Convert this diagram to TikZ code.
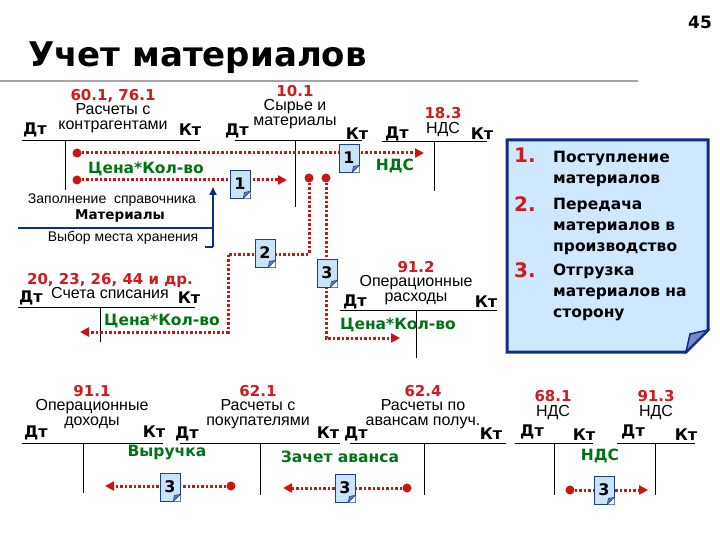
\documentclass[tikz,border=0pt]{standalone}
\usepackage{fontspec}
\setmainfont{Liberation Sans}
\newfontfamily\vb{DejaVu Sans}
\usetikzlibrary{arrows.meta}
\definecolor{lblred}{RGB}{210,25,30}
\definecolor{lblgreen}{RGB}{0,115,20}
\definecolor{flowred}{RGB}{205,20,20}
\definecolor{docfill}{RGB}{200,228,250}
\definecolor{docline}{RGB}{30,60,150}
\definecolor{boxfill}{RGB}{205,232,255}
\definecolor{navy}{RGB}{15,45,135}
\newcommand\accno[1]{{\color{lblred}\fontsize{15}{15}\vb\bfseries #1}}
\tikzset{
  nm/.style={font=\fontsize{16}{14.5}\selectfont, inner sep=0, align=center},
  dk/.style={font=\fontsize{16}{16}\vb\bfseries, inner sep=0},
  grn/.style={font=\fontsize{15.5}{15.5}\vb\bfseries, text=lblgreen, inner sep=0},
  tline/.style={line width=0.9pt, black},
  flow/.style={draw=flowred, line width=3pt, dash pattern=on 2.5pt off 2pt},
  flowarr/.style={flow, -{Triangle[length=9pt,width=9pt,fill=flowred]}},
  dotn/.style={circle, fill=flowred, inner sep=0, minimum size=9pt},
  doc/.style={draw=docline, fill=docfill, line width=0.7pt, minimum width=20pt, minimum height=28pt, inner sep=0, font=\fontsize{16}{16}\vb\bfseries},
  small/.style={font=\fontsize{14}{14}\selectfont, inner sep=0},
  legend/.style={font=\fontsize{15.5}{21}\vb\bfseries, inner sep=0, anchor=north west, align=left},
  legnum/.style={font=\fontsize{20}{20}\vb\bfseries, text=lblred, inner sep=0, anchor=north west}
}
\newcommand\docfold[1]{%
  \fill[white] (#1.south east) -- ([xshift=-7pt]#1.south east) -- ([yshift=7pt]#1.south east) -- cycle;
  \filldraw[fill=docline!70, draw=docline, line width=0.5pt] ([xshift=-7pt]#1.south east) -- ([yshift=7pt]#1.south east) -- ([xshift=-6pt,yshift=6pt]#1.south east) -- cycle;}
\begin{document}
\begin{tikzpicture}[x=1pt,y=-1pt]
\useasboundingbox (0,0) rectangle (720,540);
\fill[white] (0,0) rectangle (720,540);
% header
\node[font=\fontsize{17}{17}\vb\bfseries, inner sep=0] (pg) at (700,22) {45};
\node[font=\fontsize{34}{34}\vb\bfseries, inner sep=0, anchor=west] (title) at (28,58) {Учет материалов};
\draw[gray!70, line width=2pt] (0,81) -- (638,81);

% account 60.1
\node[nm] (a60) at (113,111) {\accno{60.1, 76.1}\\Расчеты с\\контрагентами};
\node[dk] (a60d) at (35,130) {Дт};
\node[dk] (a60k) at (190,130) {Кт};
\draw[tline] (22,140) -- (200,140) (65,140) -- (65,190);
\node[grn] (g1) at (146,169) {Цена*Кол-во};
\node[small] (zap) at (112,200) {Заполнение\ \ справочника};
\node[small, font=\fontsize{13.5}{13.5}\vb\bfseries] (mat) at (120,216) {Материалы};
\node[small] (vyb) at (123,238) {Выбор места хранения};
\draw[navy, line width=2pt] (18,228) -- (213,228);
\coordinate (bl1) at (213,247); \coordinate (bl2) at (213,187);
\draw[navy, line width=2pt] (205,247) -- (bl1);
\draw[navy, line width=2pt, -{Triangle[length=8pt,width=7pt]}] (bl1) -- (bl2);

% account 10.1
\node[nm] (a10) at (295,107) {\accno{10.1}\\Сырье и\\материалы};
\node[dk] (a10d) at (237,131) {Дт};
\node[dk] (a10k) at (357,134) {Кт};
\draw[tline] (235,140) -- (362,140) (295,140) -- (295,207);

% account 18.3
\node[nm] (a18) at (443,122) {\accno{18.3}\\НДС};
\node[dk] (a18d) at (397,134) {Дт};
\node[dk] (a18k) at (482,134) {Кт};
\draw[tline] (382,141) -- (487,141) (434,141) -- (434,191);
\node[grn] (g2) at (395,166) {НДС};

% account 20
\node[nm] (a20) at (110,286) {\accno{20, 23, 26, 44 и др.}\\Счета списания};
\node[dk] (a20d) at (31,298) {Дт};
\node[dk] (a20k) at (189,298) {Кт};
\draw[tline] (18,307) -- (195,307) (100,307) -- (100,342);
\node[grn] (g3) at (162,321) {Цена*Кол-во};

% account 91.2
\node[nm] (a912) at (416,283) {\accno{91.2}\\Операционные\\расходы};
\node[dk] (a912d) at (355,302) {Дт};
\node[dk] (a912k) at (486,302) {Кт};
\draw[tline] (340,310) -- (497,310) (416,310) -- (416,358);
\node[grn] (g4) at (398,325) {Цена*Кол-во};

% flows top
\node[dotn] (d1) at (77,153) {};
\node[dotn] (d2) at (77,180) {};
\node[dotn] (d3) at (309,178) {};
\node[dotn] (d4) at (326,178) {};
\coordinate (e1) at (424,153);
\coordinate (e2) at (287,180);
\coordinate (e3) at (80,332);
\coordinate (e4) at (400,338);
\draw[flowarr] (d1) -- (e1);
\draw[flowarr] (d2) -- (e2);
\draw[flowarr] (d3) -- (309,254) -- (228,254) -- (228,332) -- (e3);
\draw[flowarr] (d4) -- (326,338) -- (e4);
\node[doc] (b1a) at (349,158) {1}; \docfold{b1a}
\node[doc] (b1b) at (240,184) {1}; \docfold{b1b}
\node[doc] (b2) at (265,253) {2}; \docfold{b2}
\node[doc] (b3) at (327,273) {3}; \docfold{b3}

% legend box
\draw[navy, fill=boxfill, line width=3pt] (507,140) -- (708,140) -- (708,330) -- (686,352) -- (507,352) -- cycle;
\filldraw[navy, fill=docline!60, line width=1.5pt] (686,352) -- (708,330) -- (690,334) -- cycle;
\node[legnum] (n1) at (514,148) {1.};
\node[legend] (t1) at (553,151) {Поступление\\материалов};
\node[legnum] (n2) at (514,196) {2.};
\node[legend] (t2) at (553,198) {Передача\\материалов в\\производство};
\node[legnum] (n3) at (514,262) {3.};
\node[legend] (t3) at (553,264) {Отгрузка\\материалов на\\сторону};

% bottom accounts
\node[nm] (b911) at (92,407) {\accno{91.1}\\Операционные\\доходы};
\node[dk] (b911d) at (36,433) {Дт};
\node[dk] (b911k) at (154,432) {Кт};
\draw[tline] (22,443) -- (163,443) (83,443) -- (83,493);
\node[grn] (g5) at (167,453) {Выручка};

\node[nm] (b621) at (258,407) {\accno{62.1}\\Расчеты с\\покупателями};
\node[dk] (b621d) at (187,434) {Дт};
\node[dk] (b621k) at (328,433) {Кт};
\draw[tline] (180,443) -- (340,443) (260,443) -- (260,495);
\node[grn] (g6) at (340,457) {Зачет аванса};

\node[nm] (b624) at (423,407) {\accno{62.4}\\Расчеты по\\авансам получ.};
\node[dk] (b624d) at (356,434) {Дт};
\node[dk] (b624k) at (491,434) {Кт};
\draw[tline] (350,443) -- (506,443) (424,443) -- (424,495);

\node[nm] (b681) at (553,405) {\accno{68.1}\\НДС};
\node[dk] (b681d) at (532,432) {Дт};
\node[dk] (b681k) at (584,435) {Кт};
\draw[tline] (515,443) -- (593,443) (554,443) -- (554,495);

\node[nm] (b913) at (656,405) {\accno{91.3}\\НДС};
\node[dk] (b913d) at (633,432) {Дт};
\node[dk] (b913k) at (686,435) {Кт};
\draw[tline] (617,443) -- (695,443) (655,443) -- (655,495);
\node[grn] (g7) at (600,456) {НДС};

\node[dotn] (d5) at (231,486) {};
\node[dotn] (d6) at (407,488) {};
\node[dotn] (d7) at (570,490) {};
\coordinate (e5) at (105,486);
\coordinate (e6) at (283,488);
\coordinate (e7) at (648,490);
\draw[flowarr] (d5) -- (e5);
\draw[flowarr] (d6) -- (e6);
\draw[flowarr] (d7) -- (e7);
\node[doc] (b3a) at (170,487) {3}; \docfold{b3a}
\node[doc] (b3b) at (345,488) {3}; \docfold{b3b}
\node[doc] (b3c) at (604,490) {3}; \docfold{b3c}
\end{tikzpicture}
\end{document}
